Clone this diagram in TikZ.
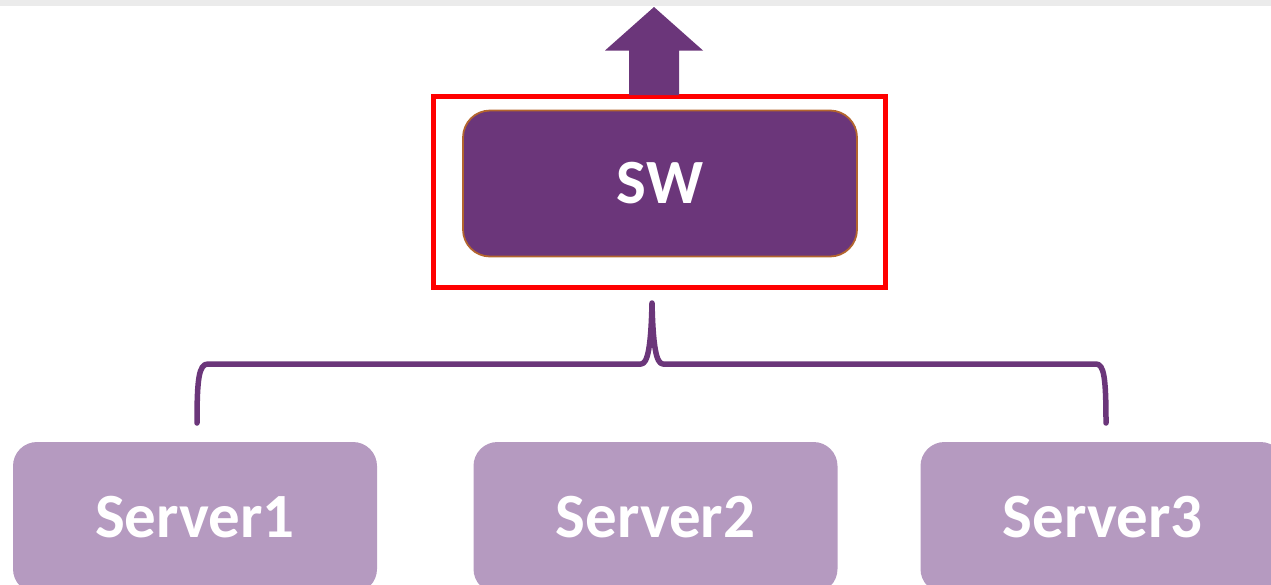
\documentclass[tikz,border=0pt]{standalone}
\usepackage{fontspec}
\setmainfont{Carlito}
\definecolor{swpurple}{HTML}{6B367A}
\definecolor{swedge}{HTML}{B3652E}
\definecolor{srvlilac}{HTML}{B59AC0}
\definecolor{hilite}{HTML}{FF0000}
\definecolor{topbar}{HTML}{EBEBEB}
\tikzset{
  boxlabel/.style={font=\bfseries\fontsize{63}{63}\selectfont, text=white, inner sep=0pt},
  swbox/.style={boxlabel, fill=swpurple, draw=swedge, line width=1.8pt,
    rounded corners=27pt, minimum width=394pt, minimum height=146pt},
  serverbox/.style={boxlabel, fill=srvlilac, rounded corners=24pt,
    minimum width=364pt, minimum height=151pt},
  bracket/.style={draw=swpurple, line width=5.5pt, line cap=round, line join=round},
}
\begin{document}
\begin{tikzpicture}[x=1pt, y=-1pt]
  \useasboundingbox (0,0) rectangle (1271,584);
  \clip (0,0) rectangle (1271,584);
  % strip along the top edge
  \fill[topbar] (0,0) rectangle (1271,6);

  % switch with its highlight frame
  \node[swbox] (sw) at (660,183.5) {SW};
  \node[draw=hilite, line width=5pt, inner sep=0pt,
        minimum width=452.5pt, minimum height=191pt] (frame) at (659.25,192) {};

  % uplink arrow
  \fill[swpurple] (654,7) -- (703,50.5) -- (679,50.5) -- (679,95)
    -- (629,95) -- (629,50.5) -- (605,50.5) -- cycle;

  % servers
  \node[serverbox] (s1) at (195,517.5) {Server1};
  \node[serverbox] (s2) at (655.5,517.5) {Server2};
  \node[serverbox] (s3) at (1102.5,517.5) {Server3};

  % brace gathering the servers into the switch
  \coordinate (tip) at (652,303);
  \coordinate (footl) at (197,423);
  \coordinate (footr) at (1106,423);
  \path[bracket] (footl) .. controls (197,378) and (199,364) .. (208,364)
    -- (641,364) .. controls (648,364) and (651,345) .. (tip)
    .. controls (653,345) and (656,364) .. (663,364)
    -- (1096,364) .. controls (1104,364) and (1106,378) .. (footr);
\end{tikzpicture}
\end{document}
